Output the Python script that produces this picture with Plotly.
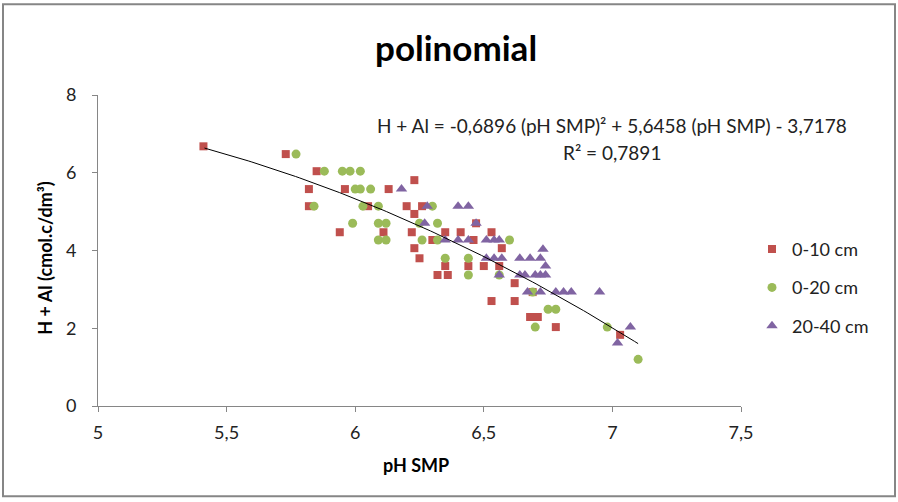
import numpy as np
import plotly.graph_objects as go

# ---- data ----
red_x = [5.41,5.73,5.85,5.82,5.96,5.82,5.94,6.05,6.23,6.13,6.20,6.26,6.23,6.11,6.22,6.30,6.35,6.41,6.46,6.53,
         6.23,6.25,6.35,6.44,6.50,6.56,6.32,6.36,6.57,6.62,6.47,6.53,6.62,6.69,6.68,6.71,6.78,7.03]
red_y = [6.68,6.48,6.04,5.58,5.58,5.14,4.47,5.14,5.81,5.58,5.14,5.14,4.94,4.47,4.47,4.27,4.47,4.47,4.27,4.47,
         4.06,3.80,3.60,3.60,3.60,3.60,3.37,3.37,4.06,3.16,4.70,2.70,2.70,2.93,2.29,2.29,2.03,1.83]

green_x = [5.77,5.88,5.95,5.98,6.02,6.00,6.02,6.06,5.84,6.03,6.09,6.30,5.99,6.09,6.12,6.25,6.32,
           6.09,6.12,6.26,6.32,6.60,6.35,6.44,6.44,6.56,6.69,6.75,6.78,6.70,6.98,7.10]
green_y = [6.48,6.04,6.04,6.04,6.04,5.58,5.58,5.58,5.14,5.14,5.14,5.14,4.70,4.70,4.70,4.70,4.70,
           4.27,4.27,4.27,4.27,4.27,3.80,3.80,3.37,3.37,2.93,2.49,2.49,2.03,2.03,1.20]

purple_x = [6.18,6.28,6.40,6.44,6.27,6.47,6.35,6.40,6.44,6.51,6.54,6.56,6.51,6.54,6.57,6.64,6.68,6.72,
            6.56,6.64,6.66,6.70,6.72,6.74,6.67,6.72,6.78,6.81,6.84,6.95,6.73,6.74,7.07,7.02]
purple_y = [5.58,5.14,5.14,5.14,4.70,4.70,4.27,4.27,4.27,4.27,4.27,4.27,3.80,3.80,3.80,3.80,3.80,3.80,
            3.37,3.37,3.37,3.37,3.37,3.37,2.93,2.93,2.93,2.93,2.93,2.93,4.03,3.60,2.03,1.62]

series_names = ["0-10 cm", "0-20 cm", "20-40 cm"]
trend_coef = [-0.6896, 5.6458, -3.7178]   # from the chart's equation
trend_range = [5.414, 7.10]
r2_text = "0,7891"

FONT = "Lato"
fig = go.Figure()

styles = [
    (red_x, red_y, "square", "#C0504D", 8),
    (green_x, green_y, "circle", "#9BBB59", 9),
    (purple_x, purple_y, "triangle-up", "#8064A2", 10),
]
for i, (xs, ys, sym, col, sz) in enumerate(styles):
    fig.add_trace(go.Scatter(
        x=xs, y=ys, mode="markers", name=series_names[i], legendgroup=series_names[i],
        marker=dict(symbol=sym, color=col, size=sz, line=dict(width=0)),
    ))

tx = np.linspace(trend_range[0], trend_range[1], 120)
ty = np.polyval(trend_coef, tx)
fig.add_trace(go.Scatter(x=tx, y=ty, mode="lines", line=dict(color="black", width=1),
                         showlegend=False, hoverinfo="skip"))

axis_common = dict(showline=True, linecolor="#868686", linewidth=1, ticks="outside",
                   ticklen=5, tickcolor="#868686", showgrid=False, zeroline=False,
                   tickfont=dict(family=FONT, size=18, color="#222"))
fig.update_xaxes(range=[5, 7.5], dtick=0.5, tick0=5, ticklabelstandoff=5, **axis_common)
fig.update_yaxes(range=[0, 8], dtick=2, tick0=0, ticklabelstandoff=12, **axis_common)

W, H = 898, 502
L, R, T, B = 98, 157, 95, 95.5
pw, ph = W - L - R, H - T - B

def px(xp):
    return (xp - L) / pw

def py(yp):
    return (H - B - yp) / ph

annotations = [
    dict(text="<b>polinomial</b>", x=px(456), y=py(47), font=dict(family=FONT, size=35, color="black")),
    dict(text="<b>H + Al (cmol.c/dm³)</b>", x=px(45), y=py(258), textangle=-90,
         font=dict(family=FONT, size=18, color="black")),
    dict(text="<b>pH SMP</b>", x=px(416), y=py(466), font=dict(family=FONT, size=18, color="black")),
    dict(text="H + Al = -0,6896 (pH SMP)² + 5,6458 (pH SMP) - 3,7178", x=px(612), y=py(126),
         font=dict(family=FONT, size=19, color="#222")),
    dict(text="R² = " + r2_text, x=px(612), y=py(153), font=dict(family=FONT, size=19, color="#222")),
]
for a in annotations:
    a.update(xref="paper", yref="paper", showarrow=False, xanchor="center", yanchor="middle")

fig.update_layout(
    width=W, height=H, margin=dict(l=L, r=R, t=T, b=B),
    paper_bgcolor="white", plot_bgcolor="white",
    separators=", ",
    annotations=annotations,
    showlegend=True,
    legend=dict(x=px(752), y=py(231), xanchor="left", yanchor="top",
                font=dict(family=FONT, size=18, color="#222"), traceorder="grouped",
                tracegroupgap=12, itemwidth=30, bgcolor="rgba(0,0,0,0)"),
    shapes=[dict(type="rect", xref="paper", yref="paper", x0=px(3), x1=px(895), y0=py(497), y1=py(4),
                 line=dict(color="#868686", width=2), fillcolor="rgba(0,0,0,0)", layer="below")],
)

fig.write_html("out.html")
